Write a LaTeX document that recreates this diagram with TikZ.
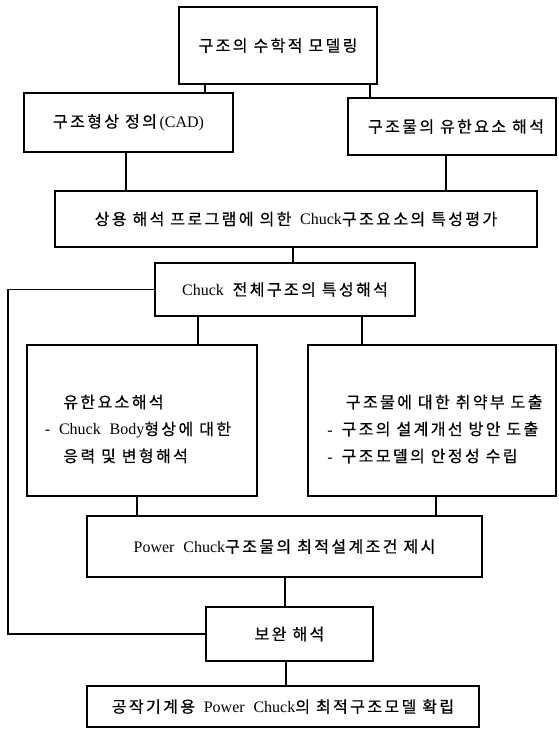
\documentclass[tikz,border=0pt]{standalone}
\usepackage{fontspec}
\setmainfont{Liberation Serif}
\newfontfamily\krfont[LetterSpace=15,FakeBold=0.6]{Noto Sans CJK KR}
\newcommand\ko[1]{{\krfont #1}}
\newcommand\gap{\hspace{0.55em}}
\begin{document}
\begin{tikzpicture}[x=1pt,y=-1pt,
  box/.style={draw, line width=1.6pt, inner sep=0pt, align=center,
    font=\fontsize{16}{27}\selectfont},
  txt/.style={inner sep=0pt, align=left, font=\fontsize{16}{27}\selectfont},
  conn/.style={line width=1.5pt}]
\useasboundingbox (0,0) rectangle (558,729);
\node[box, minimum width=198pt, minimum height=77pt] (b1) at (278,45.5) {\ko{구조의 수학적 모델링}};
\node[box, minimum width=209pt, minimum height=59pt] (b2) at (128.5,122.5) {\ko{구조형상 정의}\,(CAD)};
\node[box, minimum width=208pt, minimum height=57pt] (b3) at (452,126.5) {\hspace*{8pt}\ko{구조물의 유한요소 해석}};
\node[box, minimum width=482pt, minimum height=56pt] (b4) at (296,219) {\ko{상용 해석 프로그램에 의한}\gap Chuck\ko{구조요소의 특성평가}};
\node[box, minimum width=260pt, minimum height=53pt] (b5) at (285,289.5) {Chuck\gap\ko{전체구조의 특성해석}};
\node[box, minimum width=230pt, minimum height=151pt] (b6) at (142,420.5) {};
\node[box, minimum width=248pt, minimum height=151pt] (b7) at (432,420.5) {};
\node[txt] (t6) at (138,429) {\hspace*{1.15em}\ko{유한요소해석}\\-\gap Chuck\gap Body\ko{형상에 대한}\\\hspace*{1.15em}\ko{응력 및 변형해석}};
\node[txt] (t7) at (435,429) {\hspace*{1.15em}\ko{구조물에 대한 취약부 도출}\\-\gap\ko{구조의 설계개선 방안 도출}\\-\gap\ko{구조모델의 안정성 수립}};
\node[box, minimum width=395pt, minimum height=61pt] (b8) at (284.5,546.5) {Power\gap Chuck\ko{구조물의 최적설계조건 제시}};
\node[box, minimum width=167pt, minimum height=54pt] (b9) at (289.5,634) {\ko{보완 해석}};
\node[box, minimum width=392pt, minimum height=41pt] (b10) at (283,706.5) {\ko{공작기계용}\gap Power\gap Chuck\ko{의 최적구조모델 확립}};
\coordinate (x1) at (205,0);
\coordinate (x2) at (370,0);
\coordinate (x3) at (126,0);
\coordinate (x4) at (446,0);
\coordinate (x5) at (293,0);
\coordinate (x6) at (198,0);
\coordinate (x7) at (362,0);
\coordinate (x8) at (137,0);
\coordinate (x9) at (436,0);
\coordinate (x10) at (285,0);
\coordinate (x11) at (286,0);
\coordinate (lx) at (8,0);
\draw[conn] (b1.south -| x1) -- (b2.north -| x1);
\draw[conn] (b1.south -| x2) -- (b3.north -| x2);
\draw[conn] (b2.south -| x3) -- (b4.north -| x3);
\draw[conn] (b3.south -| x4) -- (b4.north -| x4);
\draw[conn] (b4.south -| x5) -- (b5.north -| x5);
\draw[conn] (b5.south -| x6) -- (b6.north -| x6);
\draw[conn] (b5.south -| x7) -- (b7.north -| x7);
\draw[conn] (b6.south -| x8) -- (b8.north -| x8);
\draw[conn] (b7.south -| x9) -- (b8.north -| x9);
\draw[conn] (b8.south -| x10) -- (b9.north -| x10);
\draw[conn] (b9.south -| x11) -- (b10.north -| x11);
\draw[conn] (b5.west) -- (b5.west -| lx) |- (b9.west);
\end{tikzpicture}
\end{document}
